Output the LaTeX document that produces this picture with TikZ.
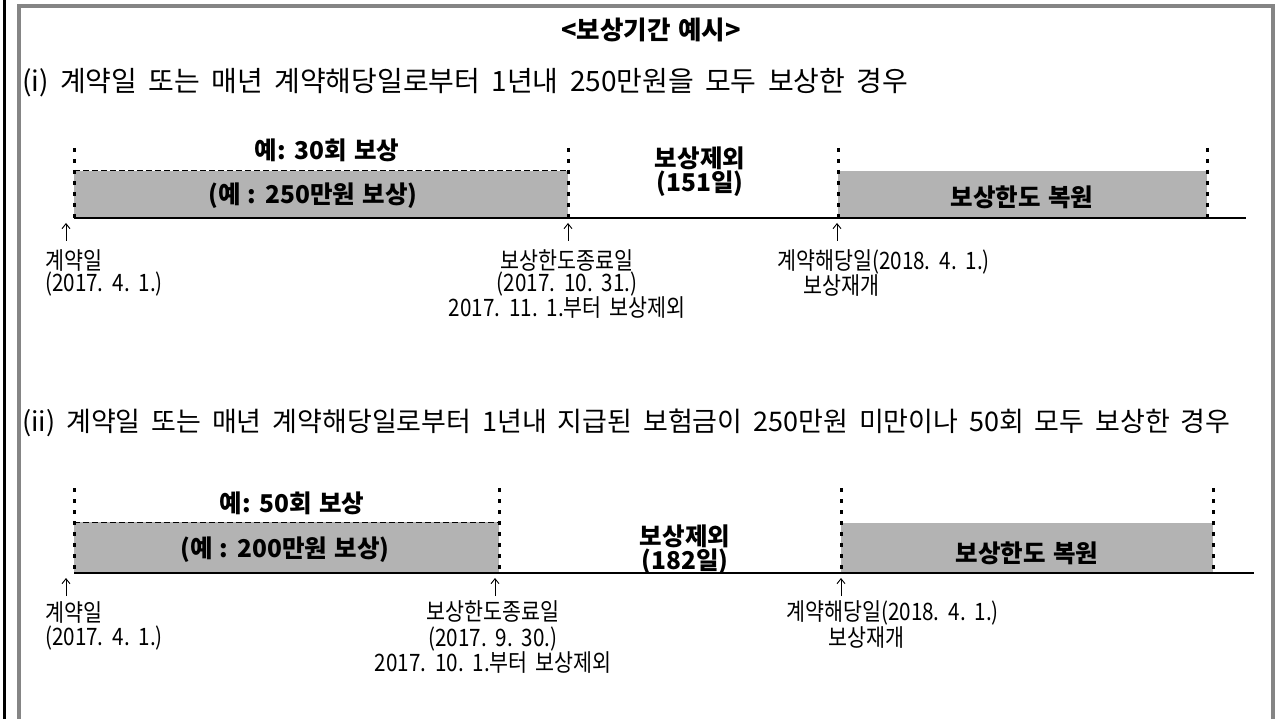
\documentclass[tikz,border=0pt]{standalone}
\usepackage{fontspec}
\setmainfont{Noto Sans CJK KR}[WordSpace=1.8]
\newfontfamily\boldkr{Noto Sans CJK KR}[WordSpace=1.3]
\newfontfamily\labelkr{Noto Sans CJK KR}[WordSpace=1.6, FakeStretch=0.86]
\usetikzlibrary{arrows.meta}
\definecolor{barfill}{HTML}{B3B3B3}
\definecolor{framegray}{HTML}{858585}
\tikzset{
  txt/.style={inner sep=0pt, font=\labelkr\fontsize{24}{#1}\selectfont},
  htxt/.style={inner sep=0pt, font=\fontsize{#1}{30}\selectfont},
  btxt/.style={inner sep=0pt, font=\boldkr\fontsize{24.5}{27}\selectfont\bfseries},
  b2txt/.style={inner sep=0pt, align=center, font=\boldkr\fontsize{24.5}{24}\selectfont\bfseries},
  ttxt/.style={inner sep=0pt, font=\boldkr\fontsize{25.5}{28}\selectfont\bfseries},
  dotv/.style={line width=3pt, dash pattern=on 4pt off 7pt},
  dashtop/.style={line width=1pt, dash pattern=on 6pt off 3pt},
  base/.style={line width=1.5pt},
  uparrow/.style={line width=0.9pt, -{Straight Barb[length=5pt,width=8pt]}},
  bar/.style={fill=barfill, draw=none}
}
\begin{document}
\begin{tikzpicture}[x=1pt,y=-1pt]
\useasboundingbox (0,0) rectangle (1275,719);
% frame
\draw[line width=3pt] (4,0) -- (4,719);
\draw[framegray, line width=4pt] (19,719) -- (19,6) -- (1273,6) -- (1273,719);
% title
\node[ttxt] (title) at (651,30) {<보상기간 예시>};
\node[htxt=28, anchor=west] (h1) at (22,83) {(i) 계약일 또는 매년 계약해당일로부터 1년내 250만원을 모두 보상한 경우};

% ---------- timeline 1
\fill[bar] (74,171) rectangle (568,218);
\fill[bar] (838,171) rectangle (1207,218);
\draw[dashtop] (74,171) -- (568,171);
\foreach \x/\n in {74/a,568/b,838/c,1207/d}{
  \coordinate (t1\n) at (\x,148);
  \coordinate (b1\n) at (\x,218);
  \draw[dotv] (t1\n) -- (b1\n);
}
\coordinate (e1) at (1246,218);
\draw[base] (b1a) -- (e1);
\node[btxt] (n1a) at (327,150) {예: 30회 보상};
\node[btxt] (n1b) at (313,196) {(예 : 250만원 보상)};
\node[b2txt] (n1c) at (700,172) {보상제외\\(151일)};
\node[btxt] (n1e) at (1022,197) {보상한도 복원};
% arrows
\coordinate (a1s) at (66,241); \coordinate (a1e) at (66,223);
\coordinate (a2s) at (568,241); \coordinate (a2e) at (568,223);
\coordinate (a3s) at (837,241); \coordinate (a3e) at (837,223);
\draw[uparrow] (a1s) -- (a1e);
\draw[uparrow] (a2s) -- (a2e);
\draw[uparrow] (a3s) -- (a3e);
\node[txt=22, anchor=west, align=left] (l1a) at (45,273) {계약일\\(2017. 4. 1.)};
\node[txt=22, align=center] (l1c) at (567,284) {보상한도종료일\\(2017. 10. 31.)\\2017. 11. 1.부터 보상제외};
\node[txt=22, anchor=west, align=left] (l1f) at (777,273) {계약해당일(2018. 4. 1.)\\\hspace*{26pt}보상재개};

% ---------- timeline 2
\node[htxt=27, anchor=west] (h2) at (22,423) {(ii) 계약일 또는 매년 계약해당일로부터 1년내 지급된 보험금이 250만원 미만이나 50회 모두 보상한 경우};
\fill[bar] (74,522) rectangle (499,573);
\fill[bar] (841,523) rectangle (1213,573);
\draw[dashtop] (74,522) -- (499,522);
\foreach \x/\n in {74/a,499/b,841/c,1213/d}{
  \coordinate (t2\n) at (\x,488);
  \coordinate (b2\n) at (\x,573);
  \draw[dotv] (t2\n) -- (b2\n);
}
\coordinate (e2) at (1254,573);
\draw[base] (b2a) -- (e2);
\node[btxt] (n2a) at (292,503) {예: 50회 보상};
\node[btxt] (n2b) at (285,550) {(예 : 200만원 보상)};
\node[b2txt] (n2c) at (685,550) {보상제외\\(182일)};
\node[btxt] (n2e) at (1027,553) {보상한도 복원};
\coordinate (c1s) at (66,596); \coordinate (c1e) at (66,578);
\coordinate (c2s) at (495,596); \coordinate (c2e) at (495,578);
\coordinate (c3s) at (841,596); \coordinate (c3e) at (841,578);
\draw[uparrow] (c1s) -- (c1e);
\draw[uparrow] (c2s) -- (c2e);
\draw[uparrow] (c3s) -- (c3e);
\node[txt=24, anchor=west, align=left] (l2a) at (45,626) {계약일\\(2017. 4. 1.)};
\node[txt=25.5, align=center] (l2c) at (493,637.5) {보상한도종료일\\(2017. 9. 30.)\\2017. 10. 1.부터 보상제외};
\node[txt=26, anchor=west, align=left] (l2f) at (786,625) {계약해당일(2018. 4. 1.)\\\hspace*{42pt}보상재개};
\end{tikzpicture}
\end{document}
